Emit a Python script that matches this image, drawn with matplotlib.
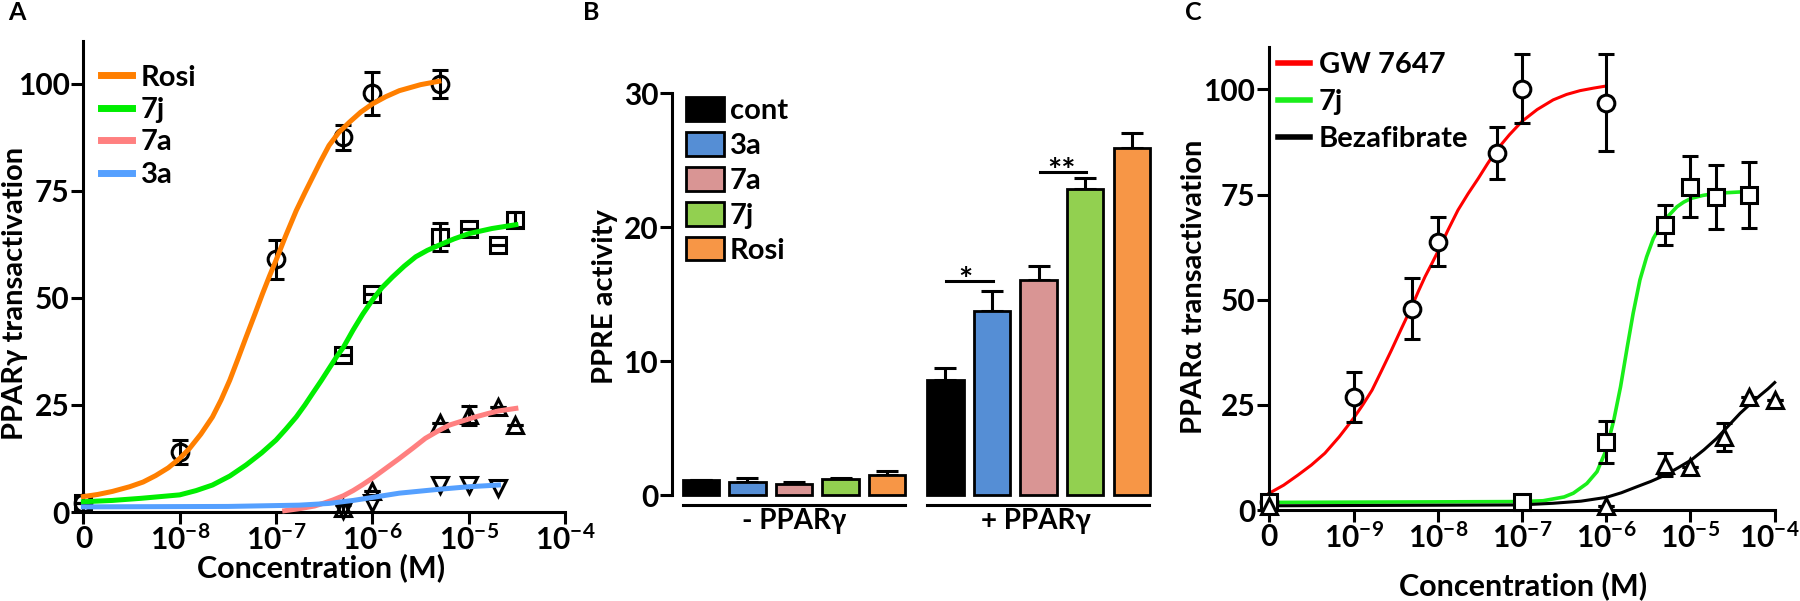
import numpy as np
import matplotlib
matplotlib.use('Agg')
import matplotlib.pyplot as plt
import matplotlib.transforms as mtransforms

plt.rcParams['font.family'] = ['Lato', 'DejaVu Sans']
plt.rcParams['font.weight'] = 'bold'
plt.rcParams['mathtext.fontset'] = 'custom'
plt.rcParams['mathtext.rm'] = 'Lato:bold'
plt.rcParams['mathtext.it'] = 'Lato:bold:italic'
plt.rcParams['mathtext.bf'] = 'Lato:bold'
plt.rcParams['mathtext.default'] = 'rm'

# ---------------- panel A: PPARgamma transactivation ----------------
# concentrations in M (0 = vehicle), means, SEM
rosi_conc = [0, 1e-8, 1e-7, 5e-7, 1e-6, 5e-6]
rosi_mean = [2.0, 14.0, 59.0, 87.5, 97.8, 100.0]
rosi_sem = [0, 2.7, 4.6, 2.9, 5.0, 3.3]

j7_conc = [0, 5e-7, 1e-6, 5e-6, 1e-5, 2e-5, 3e-5]
j7_mean = [2.0, 36.6, 51.0, 64.2, 66.2, 62.3, 68.3]
j7_sem = [0, 0, 0, 3.3, 0, 0, 1.8]

a7_conc = [5e-7, 1e-6, 5e-6, 1e-5, 2e-5, 3e-5]
a7_mean = [0.9, 5.0, 20.7, 22.6, 24.6, 20.3]
a7_sem = [0.8, 0, 0, 2.2, 0, 0]

a3_conc = [5e-7, 1e-6, 5e-6, 1e-5, 2e-5]
a3_mean = [0.5, 2.0, 6.3, 6.3, 5.5]

# fitted curves (log10 M, response)
rosi_fit_logc = [-9.0, -8.85, -8.7, -8.52, -8.38, -8.25, -8.12, -8.0, -7.9, -7.78, -7.66,
                 -7.57, -7.48, -7.4, -7.31, -7.22, -7.14, -7.07, -7.0, -6.9, -6.79, -6.7,
                 -6.62, -6.54, -6.45, -6.35, -6.24, -6.12, -6.0, -5.86, -5.72, -5.5, -5.31]
rosi_fit = [3.6, 4.1, 4.8, 5.9, 7.0, 8.5, 10.3, 12.5, 14.8, 18.2, 22.2,
            26.2, 30.8, 35.5, 40.9, 46.2, 51.0, 55.0, 58.8, 64.5, 70.4, 74.6,
            78.2, 81.8, 85.6, 88.6, 91.0, 93.4, 95.3, 97.0, 98.4, 99.8, 100.6]
j7_fit_logc = [-9.0, -8.7, -8.4, -8.0, -7.83, -7.66, -7.48, -7.31, -7.15, -7.0, -6.9,
               -6.79, -6.7, -6.62, -6.53, -6.45, -6.37, -6.3, -6.2, -6.1, -6.0, -5.9,
               -5.79, -5.67, -5.55, -5.43, -5.31, -5.15, -5.0, -4.76, -4.51]
j7_fit = [2.4, 2.7, 3.2, 4.0, 5.0, 6.3, 8.4, 11.0, 13.8, 16.8, 19.3,
          22.2, 25.0, 27.7, 30.7, 33.5, 36.3, 38.5, 42.5, 46.2, 49.5, 52.4,
          54.9, 57.4, 59.6, 61.1, 62.3, 63.8, 65.0, 66.2, 67.1]
a7_fit_logc = [-6.91, -6.75, -6.6, -6.5, -6.41, -6.3, -6.2, -6.1, -6.0, -5.86, -5.72,
               -5.58, -5.45, -5.32, -5.2, -5.06, -4.93, -4.8, -4.69, -4.51]
a7_fit = [0.3, 0.8, 1.4, 2.1, 2.8, 3.8, 5.0, 6.4, 7.9, 10.2, 12.5,
          14.9, 17.2, 18.9, 20.3, 21.3, 22.2, 23.0, 23.6, 24.2]
a3_fit_logc = [-9.0, -7.5, -7.0, -6.76, -6.45, -6.2, -6.0, -5.72, -5.31, -5.0, -4.69]
a3_fit = [1.2, 1.3, 1.5, 1.6, 2.0, 2.7, 3.4, 4.4, 5.3, 5.9, 6.3]

# ---------------- panel B: PPRE activity ----------------
b_names = ['cont', '3a', '7a', '7j', 'Rosi']
b_colors = ['#000000', '#558ed5', '#d99594', '#92d050', '#f79646']
minus_mean = [1.14, 0.97, 0.86, 1.23, 1.49]
minus_err = [0, 0.32, 0.14, 0.07, 0.28]
plus_mean = [8.6, 13.77, 16.06, 22.83, 25.93]
plus_err = [0.87, 1.49, 1.07, 0.82, 1.12]

# ---------------- panel C: PPARalpha transactivation ----------------
gw_conc = [0, 1e-9, 5e-9, 1e-8, 5e-8, 1e-7, 1e-6]
gw_mean = [2.0, 26.9, 47.9, 63.8, 84.8, 100.2, 96.8]
gw_sem = [0, 6.0, 7.3, 5.8, 6.2, 8.2, 11.5]

c7j_conc = [0, 1e-7, 1e-6, 5e-6, 1e-5, 2e-5, 5e-5]
c7j_mean = [2.0, 2.0, 16.2, 67.7, 76.9, 74.5, 74.9]
c7j_sem = [0, 0, 5.0, 4.75, 7.3, 7.6, 7.9]

beza_conc = [0, 1e-6, 5e-6, 1e-5, 2.5e-5, 5e-5, 1e-4]
beza_mean = [1.0, 1.0, 10.8, 10.3, 17.4, 26.9, 26.1]
beza_sem = [0, 0, 2.8, 0, 3.3, 0, 0]

gw_fit_logc = [-10.0, -9.83, -9.66, -9.5, -9.34, -9.17, -9.0, -8.89, -8.78, -8.67, -8.55,
               -8.43, -8.31, -8.23, -8.15, -8.07, -8.0, -7.88, -7.76, -7.64, -7.52, -7.41,
               -7.3, -7.15, -7.0, -6.82, -6.63, -6.47, -6.31, -6.15, -6.0]
gw_fit = [4.0, 5.9, 8.3, 10.7, 13.5, 17.4, 21.8, 25.0, 28.5, 33.0, 38.0,
          43.2, 48.3, 52.0, 55.5, 58.6, 61.4, 66.5, 71.3, 75.2, 78.8, 82.3,
          85.6, 89.2, 92.4, 95.2, 97.5, 98.8, 99.7, 100.3, 100.8]
c7j_fit_logc = [-10.0, -7.02, -6.75, -6.5, -6.39, -6.23, -6.11, -6.0, -5.91, -5.83, -5.75,
                -5.68, -5.6, -5.52, -5.44, -5.37, -5.3, -5.16, -5.08, -4.99, -4.85, -4.69,
                -4.33]
c7j_fit = [1.8, 2.0, 2.2, 3.1, 4.0, 6.3, 9.1, 14.3, 21.4, 29.3, 38.8,
           46.8, 54.7, 60.2, 64.6, 67.0, 69.1, 72.1, 73.2, 74.1, 74.8, 75.3,
           75.7]
beza_fit_logc = [-10.0, -7.02, -6.63, -6.3, -6.0, -5.82, -5.64, -5.47, -5.3, -5.15, -4.99,
                 -4.84, -4.69, -4.55, -4.41, -4.29, -4.17, -4.08, -4.0]
beza_fit = [1.0, 1.2, 1.6, 2.1, 3.0, 4.1, 5.5, 6.8, 8.3, 10.0, 11.9,
            14.3, 17.0, 20.0, 23.0, 25.2, 27.3, 28.8, 30.3]


def to_x(conc, zero_pos):
    conc = np.asarray(conc, dtype=float)
    out = np.full(conc.shape, float(zero_pos))
    out[conc > 0] = np.log10(conc[conc > 0])
    return out


def dose_axis(ax, x0, ylabel):
    ax.set_xlim(x0, -4)
    ax.set_ylim(0, 110)
    ax.spines['top'].set_visible(False)
    ax.spines['right'].set_visible(False)
    ax.spines['left'].set_linewidth(2.2)
    ax.spines['bottom'].set_linewidth(2.2)
    ticks = list(range(x0, -3))
    labels = ['0'] + ['$10^{%d}$' % t for t in ticks[1:]]
    ax.set_xticks(ticks)
    ax.set_xticklabels(labels, fontweight='bold')
    ax.set_yticks([0, 25, 50, 75, 100])
    ax.tick_params(width=2.2, length=8.5, labelsize=21.5, pad=1.5)
    ax.tick_params(axis='x', pad=0.5)
    ax.set_xlabel('Concentration (M)', fontsize=22, fontweight='bold', va='center')
    ax.set_ylabel(ylabel, fontsize=21, fontweight='bold', va='center')


def points(ax, x, y, err, marker, ms, face, z):
    ax.errorbar(x, y, yerr=err, fmt=marker, ms=ms, mfc=face, mec='black', mew=2.2,
                ecolor='black', elinewidth=2.2, capsize=6, capthick=2.2,
                clip_on=False, zorder=z)


fig = plt.figure(figsize=(18, 6.01), dpi=100)

# panel A
axA = fig.add_axes([83.4 / 1800, 1 - 512 / 601, (565 - 83.4) / 1800, 471 / 601])
dose_axis(axA, -9, 'PPAR\u03b3 transactivation')
points(axA, to_x(rosi_conc, -9), rosi_mean, rosi_sem, 'o', 12, 'none', 2)
points(axA, to_x(j7_conc, -9), j7_mean, j7_sem, 's', 12, 'none', 2)
points(axA, to_x(a7_conc, -9), a7_mean, a7_sem, '^', 12, 'none', 2)
points(axA, to_x(a3_conc, -9), a3_mean, None, 'v', 12, 'none', 2)
l1, = axA.plot(rosi_fit_logc, rosi_fit, color='#ff7f00', lw=3.6, clip_on=False, zorder=3)
l2, = axA.plot(j7_fit_logc, j7_fit, color='#00ee00', lw=3.6, clip_on=False, zorder=3)
l3, = axA.plot(a7_fit_logc, a7_fit, color='#ff8080', lw=3.6, clip_on=False, zorder=3)
l4, = axA.plot(a3_fit_logc, a3_fit, color='#55a0ff', lw=3.6, clip_on=False, zorder=3)
leg = axA.legend([l1, l2, l3, l4], ['Rosi', '7j', '7a', '3a'], loc='upper left',
                 bbox_to_anchor=(0.037, 0.95), frameon=False,
                 prop={'size': 21, 'weight': 'bold'},
                 handlelength=1.05, handletextpad=0.3, labelspacing=0.22,
                 borderpad=0, borderaxespad=0)
for ln in leg.get_lines():
    ln.set_linewidth(5)
axA.xaxis.set_label_coords(0.494, -0.119)
axA.yaxis.set_label_coords(-0.143, 0.465)

# panel B
axB = fig.add_axes([672 / 1800, 1 - 495.2 / 601, 478 / 1800, (495.2 - 93.1) / 601])
pos_minus = np.arange(5)
pos_plus = np.arange(5) + 5.25
axB.bar(pos_minus, minus_mean, width=0.78, color=b_colors, edgecolor='black', lw=2,
        clip_on=False, zorder=2)
bars = axB.bar(pos_plus, plus_mean, width=0.78, color=b_colors, edgecolor='black', lw=2,
               clip_on=False, zorder=2)
axB.errorbar(pos_minus, minus_mean, yerr=[np.zeros(5), minus_err], fmt='none',
             ecolor='black', elinewidth=2.2, capsize=8, capthick=2.2, zorder=1)
axB.errorbar(pos_plus, plus_mean, yerr=[np.zeros(5), plus_err], fmt='none',
             ecolor='black', elinewidth=2.2, capsize=8, capthick=2.2, zorder=1)
axB.set_xlim(-0.62, 9.64)
axB.set_ylim(0, 30)
for s in ['top', 'right', 'bottom']:
    axB.spines[s].set_visible(False)
axB.spines['left'].set_linewidth(2.2)
axB.set_xticks([])
axB.set_yticks([0, 10, 20, 30])
axB.tick_params(width=2.2, length=8.5, labelsize=21.5, pad=1.5)
axB.set_ylabel('PPRE activity', fontsize=21, fontweight='bold', va='center')
axB.yaxis.set_label_coords(-0.140, 0.493)
axB.plot([-0.39, 4.39], [-0.7, -0.7], color='black', lw=2.2, clip_on=False)
axB.plot([4.86, 9.62], [-0.7, -0.7], color='black', lw=2.2, clip_on=False)
axB.text(2.0, -1.95, '- PPAR\u03b3', fontsize=20, fontweight='bold', ha='center', va='center')
axB.text(7.2, -1.95, '+ PPAR\u03b3', fontsize=20, fontweight='bold', ha='center', va='center')
axB.plot([5.27, 6.26], [16.0, 16.0], color='black', lw=2.2)
axB.text(5.67, 15.25, '*', fontsize=24, fontweight='bold', ha='center', va='baseline')
axB.plot([7.27, 8.26], [24.1, 24.1], color='black', lw=2.2)
axB.text(7.75, 23.35, '**', fontsize=24, fontweight='bold', ha='center', va='baseline')
legB = axB.legend(list(bars), b_names, loc='upper left', bbox_to_anchor=(0.0287, 0.99),
                  frameon=False, prop={'size': 21, 'weight': 'bold'},
                  handlelength=1.3, handleheight=0.88,
                  handletextpad=0.22, labelspacing=0.27, borderpad=0, borderaxespad=0)

# panel C
axC = fig.add_axes([1269.3 / 1800, 1 - 510 / 601, 505.4 / 1800, (510 - 47.3) / 601])
dose_axis(axC, -10, 'PPAR\u03b1 transactivation')
m1, = axC.plot(gw_fit_logc, gw_fit, color='#ff0000', lw=2.2, clip_on=False, zorder=2)
m2, = axC.plot(c7j_fit_logc, c7j_fit, color='#1aee1a', lw=2.6, clip_on=False, zorder=2)
m3, = axC.plot(beza_fit_logc, beza_fit, color='black', lw=2.2, clip_on=False, zorder=2)
points(axC, to_x(gw_conc, -10), gw_mean, gw_sem, 'o', 12, 'white', 3)
points(axC, to_x(c7j_conc, -10), c7j_mean, c7j_sem, 's', 12, 'white', 3)
points(axC, to_x(beza_conc, -10), beza_mean, beza_sem, '^', 12, 'white', 3)
legC = axC.legend([m1, m2, m3], ['GW 7647', '7j', 'Bezafibrate'], loc='upper left',
                  bbox_to_anchor=(0.017, 0.99), frameon=False,
                  prop={'size': 21, 'weight': 'bold'},
                  handlelength=1.1, handletextpad=0.3, labelspacing=0.38,
                  borderpad=0, borderaxespad=0)
for ln in legC.get_lines():
    ln.set_linewidth(4)
axC.xaxis.set_label_coords(0.503, -0.164)
axC.yaxis.set_label_coords(-0.149, 0.482)
# keep the last tick label inside the figure edge
last = axC.get_xticklabels()[-1]
last.set_transform(last.get_transform() +
                   mtransforms.ScaledTranslation(-5 / 100, 0, fig.dpi_scale_trans))

fig.text(17 / 1800, 1 - 13 / 601, 'A', fontsize=18, fontweight='bold', ha='center', va='center')
fig.text(591 / 1800, 1 - 13 / 601, 'B', fontsize=18, fontweight='bold', ha='center', va='center')
fig.text(1193 / 1800, 1 - 13 / 601, 'C', fontsize=18, fontweight='bold', ha='center', va='center')

fig.savefig('out.png', dpi=100)
